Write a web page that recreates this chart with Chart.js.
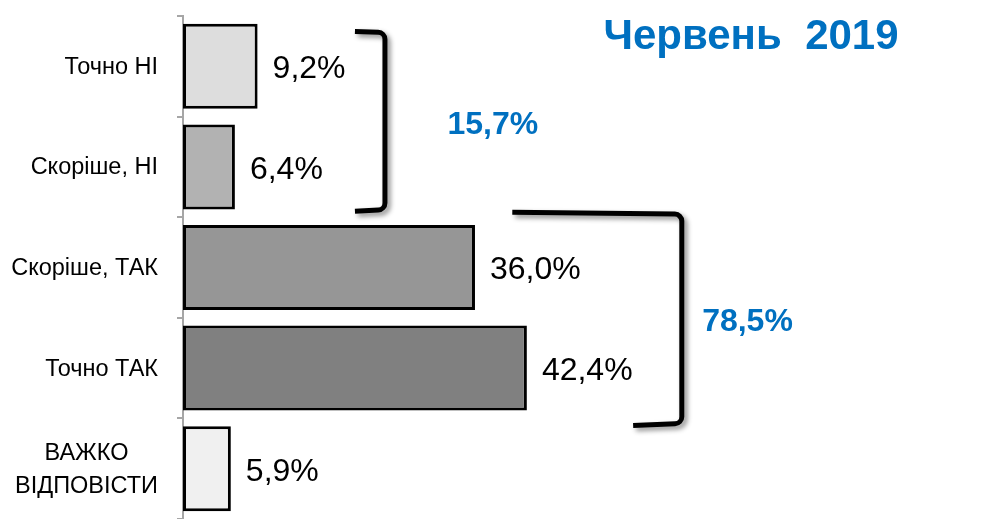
<!DOCTYPE html>
<html>
<head>
<meta charset="utf-8">
<script src="https://cdn.jsdelivr.net/npm/chart.js@4/dist/chart.umd.min.js"></script>
<style>
  html, body { margin: 0; padding: 0; background: #ffffff; overflow: hidden; }
  #wrap { width: 990px; height: 519px; position: relative; }
</style>
</head>
<body>
<div id="wrap"><canvas id="chart"></canvas></div>
<script>
// ---- data ----
const categories = ['Точно НІ', 'Скоріше, НІ', 'Скоріше, ТАК', 'Точно ТАК', 'ВАЖКО\nВІДПОВІСТИ'];
const values = [9.2, 6.4, 36.0, 42.4, 5.9];
const groupFirst = [0, 2];
const groupLast = [1, 3];
const groupTotals = [15.7, 78.5];
const chartTitle = 'Червень  2019';
const axisMin = 0;
const axisMax = 99.5;

const fmt = v => v.toFixed(1).replace('.', ',') + '%';
const FONT = '"Liberation Sans", Arial, sans-serif';

function bracket(ctx, pts, r) {
  ctx.beginPath();
  ctx.moveTo(pts[0][0], pts[0][1]);
  ctx.arcTo(pts[1][0], pts[1][1], pts[2][0], pts[2][1], r);
  ctx.arcTo(pts[2][0], pts[2][1], pts[3][0], pts[3][1], r);
  ctx.lineTo(pts[3][0], pts[3][1]);
  ctx.stroke();
}

const overlay = {
  id: 'overlay',
  afterDatasetsDraw(chart) {
    const ctx = chart.ctx;
    const x = chart.scales.x, y = chart.scales.y;
    ctx.save();

    // value labels
    const meta = chart.getDatasetMeta(0);
    ctx.font = '32px ' + FONT;
    ctx.fillStyle = '#000000';
    ctx.textAlign = 'left';
    ctx.textBaseline = 'middle';
    meta.data.forEach((bar, i) => {
      ctx.fillText(fmt(values[i]), bar.x + 15, bar.y + 3);
    });

    // category labels (block right-aligned, lines centred within block)
    ctx.font = '23.5px ' + FONT;
    categories.forEach((c, i) => {
      const lines = c.split('\n');
      const w = Math.max(...lines.map(l => ctx.measureText(l).width));
      const cx = x.left - 25 - w / 2;
      const yc = y.getPixelForValue(i);
      const lh = 33;
      ctx.textAlign = 'center';
      lines.forEach((l, k) => {
        ctx.fillText(l, cx, yc + (k - (lines.length - 1) / 2) * lh + 1);
      });
    });

    // brackets for groups
    const shapes = [
      { top: [21.2, 24.9], bot: [21.2, 24.9], yTop: [-0.345, -0.335], yBot: [1.425, 1.44] },
      { top: [40.6, 61.5], bot: [55.5, 61.5], yTop: [1.45, 1.47], yBot: [3.55, 3.57] }
    ];
    const labelPos = [[38.2, 0.59], [69.6, 2.54]];
    ctx.lineWidth = 5;
    ctx.strokeStyle = '#000000';
    ctx.lineCap = 'butt';
    ctx.lineJoin = 'round';
    ctx.shadowColor = 'rgba(0,0,0,0.45)';
    ctx.shadowBlur = 5;
    ctx.shadowOffsetX = 3;
    ctx.shadowOffsetY = 3;
    groupTotals.forEach((t, g) => {
      const s = shapes[g];
      const pts = [
        [x.getPixelForValue(s.top[0]), y.getPixelForValue(s.yTop[0])],
        [x.getPixelForValue(s.top[1]), y.getPixelForValue(s.yTop[1])],
        [x.getPixelForValue(s.bot[1]), y.getPixelForValue(s.yBot[0])],
        [x.getPixelForValue(s.bot[0]), y.getPixelForValue(s.yBot[1])]
      ];
      bracket(ctx, pts, 7);
    });
    ctx.shadowColor = 'rgba(0,0,0,0)';
    ctx.shadowBlur = 0; ctx.shadowOffsetX = 0; ctx.shadowOffsetY = 0;

    // group totals
    ctx.font = 'bold 32px ' + FONT;
    ctx.fillStyle = '#0070C0';
    ctx.textAlign = 'center';
    ctx.textBaseline = 'middle';
    groupTotals.forEach((t, g) => {
      ctx.fillText(fmt(t), x.getPixelForValue(labelPos[g][0]), y.getPixelForValue(labelPos[g][1]));
    });

    // title
    ctx.font = 'bold 42px ' + FONT;
    ctx.textBaseline = 'alphabetic';
    ctx.fillText(chartTitle, chart.width * 0.7586, 49);

    ctx.restore();
  }
};

new Chart(document.getElementById('chart'), {
  type: 'bar',
  data: {
    labels: categories,
    datasets: [{
      data: values,
      backgroundColor: ['#DDDDDD', '#B2B2B2', '#969696', '#808080', '#F0F0F0'],
      borderColor: '#000000',
      borderWidth: 3,
      borderSkipped: false,
      categoryPercentage: 1.0,
      barPercentage: 0.845
    }]
  },
  options: {
    indexAxis: 'y',
    responsive: true,
    maintainAspectRatio: false,
    devicePixelRatio: 1,
    animation: false,
    layout: { padding: { top: 16, left: 0, right: 0, bottom: 0 } },
    plugins: { legend: { display: false }, tooltip: { enabled: false }, title: { display: false } },
    scales: {
      x: { display: false, min: axisMin, max: axisMax },
      y: {
        position: 'left',
        offset: true,
        grid: { offset: true, drawOnChartArea: false, drawTicks: true, tickLength: 6, color: '#A6A6A6', lineWidth: 2 },
        border: { display: true, color: '#A6A6A6', width: 2 },
        ticks: { display: false },
        afterFit(scale) { scale.width = 183; }
      }
    }
  },
  plugins: [overlay]
});
</script>
</body>
</html>
